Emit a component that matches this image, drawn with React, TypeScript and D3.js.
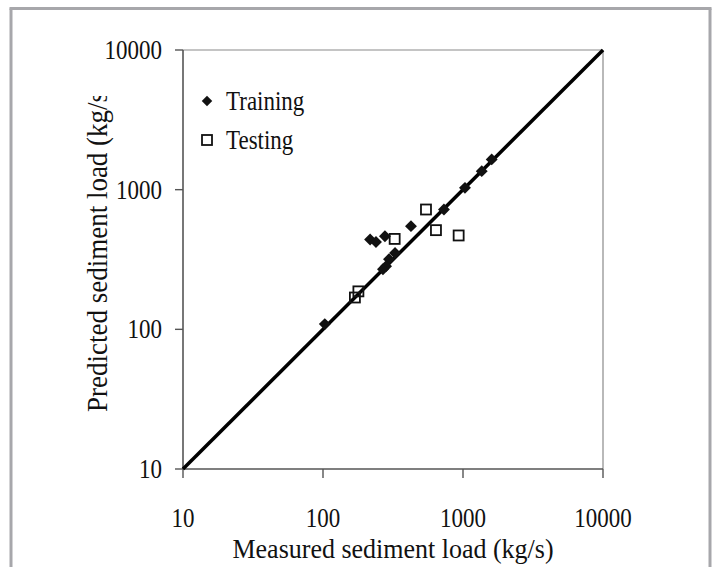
import React from "react";
import * as d3 from "d3";

const tickValues = [10, 100, 1000, 10000];
const tickLabels = ["10", "100", "1000", "10000"];

const trainingMeasured = [103, 1603, 1361, 1033, 731, 425, 277, 217, 239, 327, 296, 282, 268];
const trainingPredicted = [109, 1647, 1357, 1030, 721, 548, 464, 440, 422, 352, 318, 283, 269];

const testingMeasured = [544, 641, 931, 325, 179, 169];
const testingPredicted = [721, 513, 470, 444, 187, 169];

const lineValues = [10, 10000];

const xTitle = "Measured sediment load (kg/s)";
const yTitle = "Predicted sediment load (kg/s)";
const legendLabels = ["Training", "Testing"];

const W = 720;
const H = 567;
const L = 183, R = 603, T = 50, B = 469;

export default function App() {
  const x = d3.scaleLog().domain([10, 10000]).range([L, R]);
  const y = d3.scaleLog().domain([10, 10000]).range([B, T]);
  const font = "'Liberation Serif', 'Times New Roman', serif";
  const diamond = d3.symbol().type(d3.symbolDiamond2).size(90)();
  const legendDiamond = d3.symbol().type(d3.symbolDiamond2).size(70)();
  const lineGen = d3.line<number>().x((d) => x(d)).y((d) => y(d));
  const sy = 1.15;

  return (
    <svg
      width={W}
      height={H}
      style={{ position: "absolute", left: 0, top: 0, background: "#fff" }}
      fontFamily={font}
    >
      <defs>
        <clipPath id="ytclip">
          <rect x={0} y={96} width={W} height={H} />
        </clipPath>
      </defs>
      {/* outer frame */}
      <line x1={11} y1={8.5} x2={11} y2={H} stroke="#a7a7ab" strokeWidth={3} />
      <line x1={710} y1={8.5} x2={710} y2={H} stroke="#a7a7ab" strokeWidth={3} />
      <line x1={9.5} y1={8.5} x2={711.5} y2={8.5} stroke="#a7a7ab" strokeWidth={3} />

      {/* plot border */}
      <line x1={L} y1={T} x2={R} y2={T} stroke="#8a8a8a" strokeWidth={1.2} />
      <line x1={R} y1={T} x2={R} y2={B} stroke="#8a8a8a" strokeWidth={1.2} />
      <line x1={L} y1={T} x2={L} y2={B} stroke="#555" strokeWidth={1.6} />
      <line x1={L} y1={B} x2={R} y2={B} stroke="#555" strokeWidth={1.6} />

      {/* ticks and labels */}
      {tickValues.map((v, i) => (
        <g key={"xt" + i}>
          <line x1={x(v)} y1={B} x2={x(v)} y2={B + 9} stroke="#555" strokeWidth={1.4} />
          <text
            transform={`translate(${x(v)}, 527) scale(1, ${sy})`}
            textAnchor="middle"
            fontSize={23}
            fill="#111"
          >
            {tickLabels[i]}
          </text>
        </g>
      ))}
      {tickValues.map((v, i) => (
        <g key={"yt" + i}>
          <line x1={L - 8} y1={y(v)} x2={L} y2={y(v)} stroke="#555" strokeWidth={1.4} />
          <text
            transform={`translate(162, ${y(v) + 9}) scale(1, ${sy})`}
            textAnchor="end"
            fontSize={23}
            fill="#111"
          >
            {tickLabels[i]}
          </text>
        </g>
      ))}

      {/* titles */}
      <text
        transform={`translate(${(L + R) / 2}, 558) scale(1, 1.07)`}
        textAnchor="middle"
        fontSize={26}
        fill="#111"
      >
        {xTitle}
      </text>
      <g clipPath="url(#ytclip)">
        <text
          transform={`translate(107, 412) rotate(-90) scale(1, 1.07)`}
          textAnchor="start"
          fontSize={27}
          fill="#111"
        >
          {yTitle}
        </text>
      </g>

      {/* 1:1 line */}
      <path d={lineGen(lineValues) || ""} stroke="#000" strokeWidth={3.5} fill="none" />

      {/* training */}
      {trainingMeasured.map((m, i) => (
        <path
          key={"tr" + i}
          d={diamond || ""}
          transform={`translate(${x(m)}, ${y(trainingPredicted[i])})`}
          fill="#111"
        />
      ))}
      {/* testing */}
      {testingMeasured.map((m, i) => (
        <rect
          key={"te" + i}
          x={x(m) - 5}
          y={y(testingPredicted[i]) - 5}
          width={10}
          height={10}
          fill="none"
          stroke="#111"
          strokeWidth={1.8}
        />
      ))}

      {/* legend */}
      <path d={legendDiamond || ""} transform="translate(207, 101)" fill="#111" />
      <text transform={`translate(226, 110) scale(1, ${sy})`} fontSize={23} fill="#111">
        {legendLabels[0]}
      </text>
      <rect x={202} y={135} width={10} height={10} fill="none" stroke="#111" strokeWidth={1.8} />
      <text transform={`translate(226, 149) scale(1, ${sy})`} fontSize={23} fill="#111">
        {legendLabels[1]}
      </text>
    </svg>
  );
}
